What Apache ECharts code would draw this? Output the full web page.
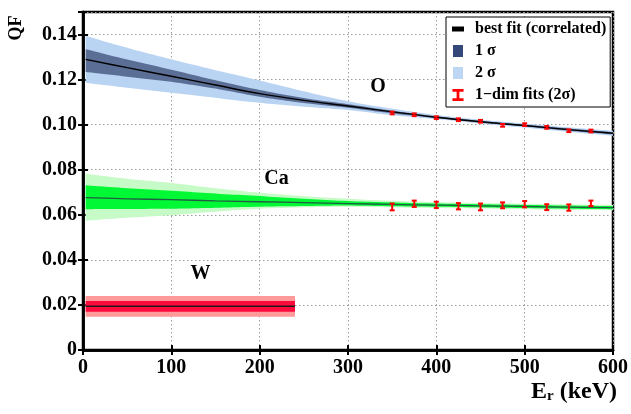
<!DOCTYPE html>
<html>
<head>
<meta charset="utf-8">
<script src="https://cdn.jsdelivr.net/npm/echarts@6/dist/echarts.min.js"></script>
<style>html,body{margin:0;padding:0;background:#fff;}#c{width:631px;height:414px;}</style>
</head>
<body>
<div id="c"></div>
<script>
// ---------- data ----------
const energyGrid = [3, 50, 100, 150, 200, 250, 300, 350, 400, 450, 500, 550, 600];

const oCenter = [0.1290, 0.1253, 0.1215, 0.1176, 0.1138, 0.1108, 0.1083, 0.1057, 0.1033, 0.1013, 0.0996, 0.0978, 0.0962];
const o2Hi    = [0.1394, 0.1341, 0.1290, 0.1242, 0.1196, 0.1148, 0.1104, 0.1071, 0.1043, 0.1022, 0.1005, 0.0988, 0.0973];
const o2Lo    = [0.1186, 0.1164, 0.1142, 0.1119, 0.1097, 0.1080, 0.1065, 0.1042, 0.1025, 0.1005, 0.0987, 0.0968, 0.0951];
const o1Hi    = [0.1335, 0.1289, 0.1244, 0.1197, 0.1154, 0.1118, 0.1091, 0.1062, 0.1037, 0.1017, 0.1000, 0.0983, 0.0967];
const o1Lo    = [0.1234, 0.1213, 0.1190, 0.1160, 0.1124, 0.1096, 0.1075, 0.1050, 0.1029, 0.1009, 0.0992, 0.0973, 0.0957];

const caCenter = [0.0676, 0.0671, 0.0667, 0.0662, 0.0658, 0.0654, 0.0650, 0.0646, 0.0643, 0.0640, 0.0637, 0.0634, 0.0632];
const ca2Hi    = [0.0782, 0.0760, 0.0741, 0.0718, 0.0698, 0.0683, 0.0671, 0.0662, 0.0656, 0.0652, 0.0649, 0.0646, 0.0644];
const ca2Lo    = [0.0574, 0.0587, 0.0598, 0.0614, 0.0627, 0.0633, 0.0636, 0.0633, 0.0630, 0.0628, 0.0625, 0.0622, 0.0620];
const ca1Hi    = [0.0731, 0.0718, 0.0707, 0.0694, 0.0683, 0.0671, 0.0661, 0.0655, 0.0650, 0.0647, 0.0644, 0.0641, 0.0639];
const ca1Lo    = [0.0625, 0.0626, 0.0627, 0.0631, 0.0636, 0.0639, 0.0641, 0.0638, 0.0636, 0.0633, 0.0630, 0.0627, 0.0625];

const wGrid   = [3, 240];
const wCenter = [0.0194, 0.0194];
const w2Hi    = [0.0240, 0.0240];
const w2Lo    = [0.0148, 0.0148];
const w1Hi    = [0.0218, 0.0218];
const w1Lo    = [0.0170, 0.0170];

const fitEnergies = [350, 375, 400, 425, 450, 475, 500, 525, 550, 575];
const oFits   = [0.1052, 0.1044, 0.1031, 0.1022, 0.1015, 0.0997, 0.1000, 0.0988, 0.0973, 0.0972];
const oErr    = [0.0006, 0.0006, 0.0006, 0.0006, 0.0006, 0.0006, 0.0006, 0.0006, 0.0006, 0.0006];
const caFits  = [0.0635, 0.0649, 0.0644, 0.0638, 0.0635, 0.0642, 0.0647, 0.0634, 0.0632, 0.0651];
const caErr   = [0.0015, 0.0014, 0.0014, 0.0014, 0.0015, 0.0013, 0.0014, 0.0013, 0.0014, 0.0012];

const xTicks = [0, 100, 200, 300, 400, 500, 600];
const yTicks = [0, 0.02, 0.04, 0.06, 0.08, 0.10, 0.12, 0.14];

const elementLabels = ['O', 'Ca', 'W'];
const elementLabelPos = [[334, 0.1166], [219, 0.0758], [133, 0.0338]];

const legendNames = ['best fit (correlated)', '1 σ', '2 σ', '1\u2212dim fits (2σ)'];

// ---------- helpers ----------
const FONT = 'Liberation Serif';
const zip = (xs, ys) => xs.map((x, i) => [x, ys[i]]);

// Catmull-Rom sampling of pixel points (rendering only)
function smoothPts(P) {
  if (P.length < 3) return P.slice();
  const out = [];
  const n = P.length;
  for (let i = 0; i < n - 1; i++) {
    const p0 = P[Math.max(0, i - 1)], p1 = P[i], p2 = P[i + 1], p3 = P[Math.min(n - 1, i + 2)];
    const steps = 10;
    for (let s = 0; s < steps; s++) {
      const t = s / steps, t2 = t * t, t3 = t2 * t;
      const f = (a0, a1, a2, a3) => 0.5 * (2 * a1 + (-a0 + a2) * t + (2 * a0 - 5 * a1 + 4 * a2 - a3) * t2 + (-a0 + 3 * a1 - 3 * a2 + a3) * t3);
      out.push([f(p0[0], p1[0], p2[0], p3[0]), f(p0[1], p1[1], p2[1], p3[1])]);
    }
  }
  out.push(P[n - 1]);
  return out;
}

function band(name, xs, lo, hi, color, z) {
  return {
    name: name, type: 'custom', z: z, silent: true, clip: true,
    itemStyle: { color: color },
    data: xs.map((x, i) => [x, lo[i], hi[i]]),
    encode: { x: 0, y: [1, 2] },
    renderItem: function (params, api) {
      if (params.dataIndex !== 0) return null;
      const n = xs.length;
      const top = [], bot = [];
      for (let i = 0; i < n; i++) {
        top.push(api.coord([api.value(0, i), api.value(2, i)]));
        bot.push(api.coord([api.value(0, i), api.value(1, i)]));
      }
      const pts = smoothPts(top).concat(smoothPts(bot).reverse());
      return { type: 'polygon', shape: { points: pts }, style: { fill: color, stroke: null } };
    }
  };
}
function centerLine(name, xs, ys, color, width) {
  return { name: name, type: 'line', data: zip(xs, ys), symbol: 'none', smooth: 0.4,
    lineStyle: { color: color, width: width }, itemStyle: { color: color }, z: 5 };
}
function errBars(name, xs, ys, err) {
  return {
    name: name, type: 'custom', z: 6,
    itemStyle: { color: '#ff0000' },
    data: xs.map((x, i) => [x, +(ys[i] - err[i]).toFixed(5), +(ys[i] + err[i]).toFixed(5)]),
    encode: { x: 0, y: [1, 2] },
    renderItem: function (params, api) {
      const x = api.value(0);
      const p1 = api.coord([x, api.value(1)]);
      const p2 = api.coord([x, api.value(2)]);
      const cap = 2.5;
      const st = { stroke: '#ff0000', lineWidth: 2 };
      return { type: 'group', children: [
        { type: 'line', shape: { x1: p1[0], y1: p1[1], x2: p2[0], y2: p2[1] }, style: st },
        { type: 'line', shape: { x1: p1[0] - cap, y1: p1[1], x2: p1[0] + cap, y2: p1[1] }, style: st },
        { type: 'line', shape: { x1: p2[0] - cap, y1: p2[1], x2: p2[0] + cap, y2: p2[1] }, style: st }
      ]};
    }
  };
}

const series = [
  band(legendNames[2], energyGrid, o2Lo, o2Hi, '#b9d3f2', 1),
  band(legendNames[1], energyGrid, o1Lo, o1Hi, '#5b6e96', 2),
  band('Ca 2s', energyGrid, ca2Lo, ca2Hi, '#c6fac6', 1),
  band('Ca 1s', energyGrid, ca1Lo, ca1Hi, '#00f834', 2),
  band('W 2s', wGrid, w2Lo, w2Hi, '#ff9a9a', 1),
  band('W 1s', wGrid, w1Lo, w1Hi, '#ff0a3c', 2),
  centerLine(legendNames[0], energyGrid, oCenter, '#000000', 1.4),
  centerLine('Ca fit', energyGrid, caCenter, '#235c45', 1.3),
  centerLine('W fit', wGrid, wCenter, '#1a1a1a', 1.5),
  errBars(legendNames[3], fitEnergies, oFits, oErr),
  errBars('Ca 1-dim', fitEnergies, caFits, caErr),
  {
    name: 'labels', type: 'custom', z: 7, silent: true,
    data: elementLabels.map((t, i) => [elementLabelPos[i][0], elementLabelPos[i][1], i]),
    encode: { x: 0, y: 1 },
    renderItem: function (params, api) {
      const p = api.coord([api.value(0), api.value(1)]);
      return { type: 'text', x: p[0], y: p[1],
        style: { text: elementLabels[params.dataIndex], fill: '#000', opacity: 1,
          font: 'bold 20px "Liberation Serif"', align: 'center', verticalAlign: 'middle',
          textAlign: 'center', textVerticalAlign: 'middle' } };
    }
  }
];

const gridLine = { show: true, lineStyle: { color: '#9a9a9a', width: 1, type: [1.5, 2.5] } };
const tickIn = { show: true, inside: true, length: 5, lineStyle: { color: '#000', width: 2 } };
const axisLbl = { fontFamily: FONT, fontWeight: 'bold', fontSize: 20, color: '#000' };

const chart = echarts.init(document.getElementById('c'), null, { renderer: 'canvas' });
chart.setOption({
  backgroundColor: '#fff',
  animation: false,
  grid: { left: 83, right: 18, top: 12, bottom: 64, show: true, borderColor: '#000', borderWidth: 2.5, backgroundColor: 'transparent' },
  xAxis: [
    { type: 'value', min: xTicks[0], max: xTicks[xTicks.length - 1], interval: 100,
      axisLine: { show: true, lineStyle: { color: '#000', width: 2.5 } }, axisTick: tickIn,
      splitLine: gridLine, axisLabel: Object.assign({ margin: 8 }, axisLbl, { formatter: v => String(v) }) },
    { type: 'value', position: 'top', min: xTicks[0], max: xTicks[xTicks.length - 1], interval: 100,
      axisLine: { show: true, lineStyle: { color: '#000', width: 2.5 } }, axisTick: tickIn,
      splitLine: { show: false }, axisLabel: { show: false } }
  ],
  yAxis: [
    { type: 'value', min: 0, max: 0.15, interval: 0.02,
      axisLine: { show: true, lineStyle: { color: '#000', width: 2.5 } }, axisTick: tickIn,
      splitLine: gridLine,
      axisLabel: Object.assign({ margin: 6, showMaxLabel: false }, axisLbl, {
        formatter: v => (v > 0.145 ? '' : (v === 0 ? '0' : v.toFixed(2))) }) },
    { type: 'value', position: 'right', min: 0, max: 0.15, interval: 0.02,
      axisLine: { show: true, lineStyle: { color: '#000', width: 2.5 } }, axisTick: tickIn,
      splitLine: { show: false }, axisLabel: { show: false } }
  ],
  legend: {
    orient: 'vertical', left: 446, top: 17,
    backgroundColor: '#fff', borderColor: '#000', borderWidth: 1, borderRadius: 0,
    padding: [4, 4, 4, 6], itemWidth: 12, itemHeight: 12, itemGap: 6,
    textStyle: { fontFamily: FONT, fontWeight: 'bold', fontSize: 16, color: '#000', padding: [0, 0, 0, 6] },
    data: [
      { name: legendNames[0], icon: 'path://M0,0 h12 v5 h-12z', itemStyle: { color: '#000' } },
      { name: legendNames[1], icon: 'path://M0,0 h10 v12 h-10z', itemStyle: { color: '#34497a' } },
      { name: legendNames[2], icon: 'path://M0,0 h10 v12 h-10z', itemStyle: { color: '#bcd6f4' } },
      { name: legendNames[3], icon: 'path://M0,0 h12 v3 h-4.5 v7 h4.5 v3 h-12 v-3 h4.5 v-7 h-4.5z', itemStyle: { color: '#ff0000' } }
    ],
    selectedMode: false
  },
  graphic: [
    { type: 'text', x: 16, y: 28, rotation: Math.PI / 2,
      style: { text: 'QF', fontFamily: FONT, fontWeight: 'bold', fontSize: 18, fill: '#000',
        textAlign: 'center', textVerticalAlign: 'middle', align: 'center', verticalAlign: 'middle' } },
    { type: 'text', x: 617, y: 380,
      style: { text: '{a|E}{b|r}{a| (keV)}', fill: '#000', textAlign: 'right', align: 'right',
        textVerticalAlign: 'top', verticalAlign: 'top',
        rich: {
          a: { fontFamily: FONT, fontWeight: 'bold', fontSize: 24, lineHeight: 24, verticalAlign: 'top', fill: '#000', color: '#000' },
          b: { fontFamily: FONT, fontWeight: 'bold', fontSize: 15, lineHeight: 16, padding: [18, 0, 0, 0], verticalAlign: 'bottom', fill: '#000', color: '#000' }
        } } }
  ],
  series: series
});
</script>
</body>
</html>
